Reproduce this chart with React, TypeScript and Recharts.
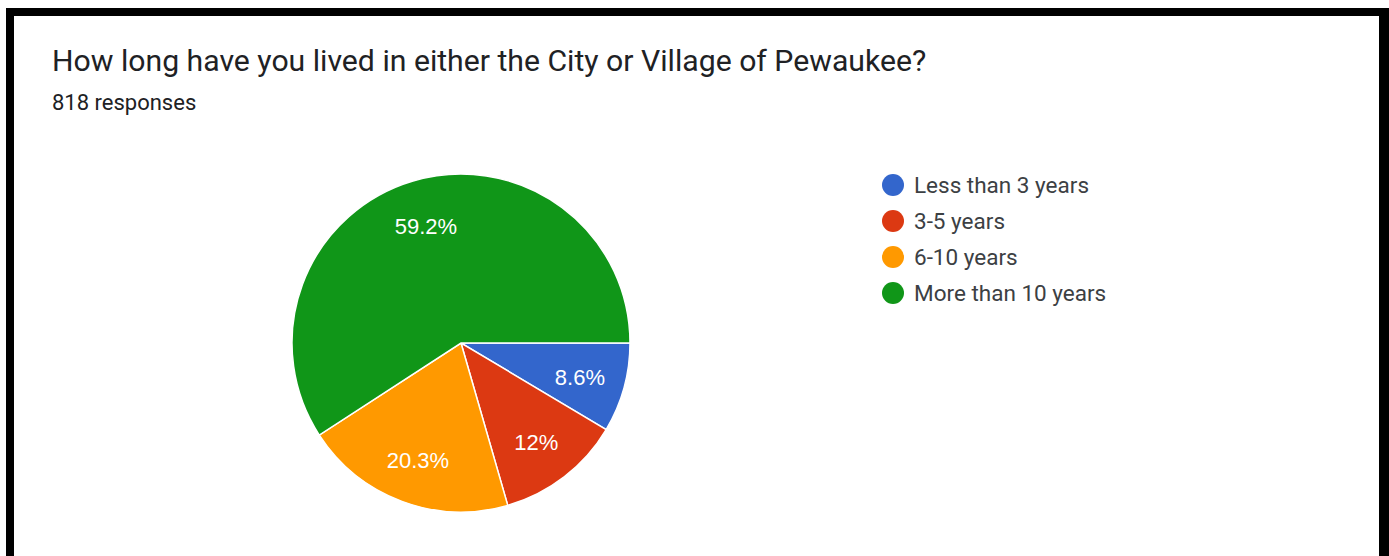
import { Cell, Legend, Pie, PieChart } from "recharts";

const categories = ["Less than 3 years", "3-5 years", "6-10 years", "More than 10 years"];
const responses = [70, 98, 166, 484];
const colors = ["#3366cc", "#dc3912", "#ff9900", "#109618"];

const data = categories.map((name, i) => ({ name, value: responses[i] }));
const total = responses.reduce((a, b) => a + b, 0);

const RAD = Math.PI / 180;

function SliceLabel(props: any) {
    const { cx, cy, midAngle, outerRadius, percent } = props;
    const r = outerRadius * 0.73;
    const x = cx + r * Math.cos(-midAngle * RAD);
    const y = cy + r * Math.sin(-midAngle * RAD) + 1.5;
    const text = (percent * 100).toFixed(1).replace(/\.0$/, "") + "%";
    return (
        <text
            x={x}
            y={y}
            fill="#ffffff"
            textAnchor="middle"
            dominantBaseline="central"
            fontFamily="Arial, 'Liberation Sans', sans-serif"
            fontSize={22}
        >
            {text}
        </text>
    );
}

function LegendBox({ payload }: any) {
    // keep the original category order instead of the default sort
    const items = [...(payload || [])].sort(
        (a: any, b: any) => categories.indexOf(a.value) - categories.indexOf(b.value)
    );
    return (
        <div>
            {items.map((p: any) => (
                <div key={p.value} style={{ display: "flex", alignItems: "center", height: 36 }}>
                    <span
                        style={{
                            width: 22,
                            height: 22,
                            borderRadius: "50%",
                            background: p.color,
                            marginRight: 10,
                            display: "inline-block",
                        }}
                    />
                    <span style={{ fontFamily: "Roboto, sans-serif", fontSize: 22.5, color: "#3c4043" }}>
                        {p.value}
                    </span>
                </div>
            ))}
        </div>
    );
}

export default function App() {
    return (
        <div
            style={{
                position: "absolute",
                left: 6,
                top: 8,
                width: 1365,
                height: 548,
                borderTop: "8px solid #000",
                borderLeft: "8px solid #000",
                borderRight: "10px solid #000",
                background: "#fff",
            }}
        >
            {/* Title block */}
            <div
                style={{
                    position: "absolute",
                    left: 38,
                    top: 27,
                    fontFamily: "Roboto, sans-serif",
                    fontSize: 30.2,
                    color: "#202124",
                    whiteSpace: "nowrap",
                }}
            >
                How long have you lived in either the City or Village of Pewaukee?
            </div>
            <div
                style={{
                    position: "absolute",
                    left: 38,
                    top: 74,
                    fontFamily: "Roboto, sans-serif",
                    fontSize: 22,
                    color: "#202124",
                    whiteSpace: "nowrap",
                }}
            >
                {total} responses
            </div>

            <div style={{ position: "absolute", left: 0, top: 0 }}>
                <PieChart width={1365} height={540}>
                    <Pie
                        data={data}
                        dataKey="value"
                        nameKey="name"
                        cx={442}
                        cy={322}
                        outerRadius={169}
                        startAngle={0}
                        endAngle={-360}
                        stroke="#ffffff"
                        strokeWidth={1.5}
                        label={SliceLabel}
                        labelLine={false}
                        isAnimationActive={false}
                    >
                        {data.map((d, i) => (
                            <Cell key={d.name} fill={colors[i]} />
                        ))}
                    </Pie>
                    <Legend
                        layout="vertical"
                        content={<LegendBox />}
                        wrapperStyle={{ position: "absolute", left: 868, top: 151, width: 320 }}
                    />
                </PieChart>
            </div>
        </div>
    );
}
